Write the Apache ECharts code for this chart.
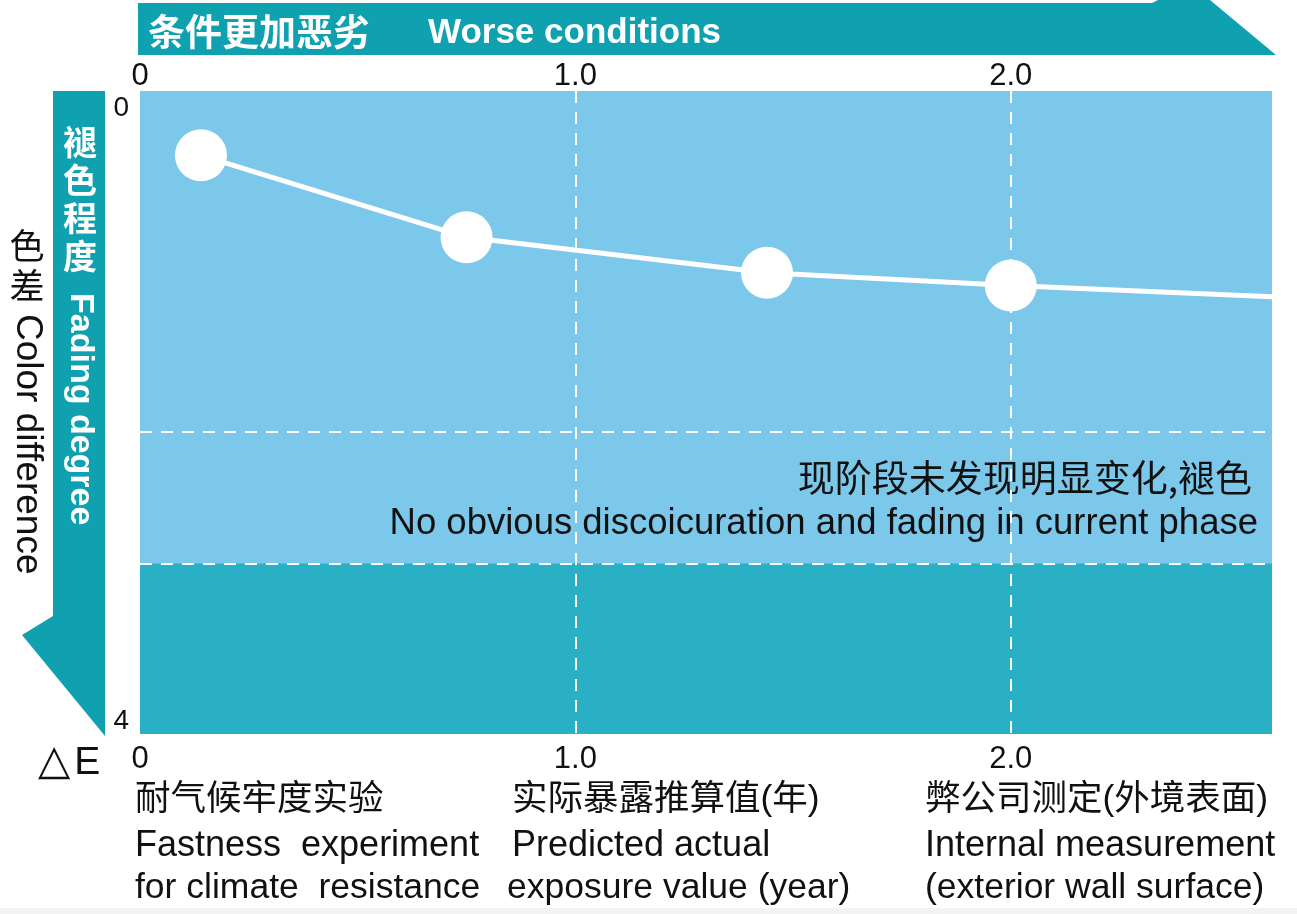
<!DOCTYPE html>
<html>
<head>
<meta charset="utf-8">
<script src="https://cdn.jsdelivr.net/npm/echarts@6/dist/echarts.min.js"></script>
<style>
  html, body { margin: 0; padding: 0; background: #ffffff; }
  #chart { width: 1297px; height: 914px; }
</style>
</head>
<body>
<div id="chart"></div>
<script>
// exposure (years) and colour difference readings
const years = [0.14, 0.75, 1.44, 2.0, 2.6];
const deltaE = [0.4, 0.91, 1.13, 1.21, 1.28];
const hasMarker = [true, true, true, true, false];
const xTickLabels = { 0: "0", 1: "1.0", 2: "2.0" };
const yTickLabels = { 0: "0", 4: "4" };
const guideYears = [1, 2];
const bandEdges = [2.12, 2.94];

const FONT = "'Liberation Sans', 'Noto Sans CJK SC', Arial, sans-serif";
const TEAL = "#0fa1b0";

const chart = echarts.init(document.getElementById("chart"));

const dashed = { color: "#ffffff", width: 2, type: [12, 9] };

const xLabel = (margin) => ({
  color: "#111",
  fontSize: 31,
  fontFamily: FONT,
  margin: margin,
  showMaxLabel: false,
  formatter: (v) => xTickLabels[v] || "",
});

const option = {
  backgroundColor: "#ffffff",
  animation: false,
  grid: {
    left: 140,
    right: 25,
    top: 91,
    bottom: 180,
    show: true,
    backgroundColor: "#7cc8eb",
    borderWidth: 0,
  },
  xAxis: [
    {
      type: "value",
      min: 0,
      max: 2.6,
      interval: 1,
      position: "bottom",
      axisLine: { show: false },
      axisTick: { show: false },
      splitLine: { show: false },
      axisLabel: xLabel(10),
    },
    {
      type: "value",
      min: 0,
      max: 2.6,
      interval: 1,
      position: "top",
      axisLine: { show: false },
      axisTick: { show: false },
      splitLine: { show: false },
      axisLabel: xLabel(-1),
    },
  ],
  yAxis: {
    type: "value",
    inverse: true,
    min: 0,
    max: 4,
    interval: 4,
    axisLine: { show: false },
    axisTick: { show: false },
    splitLine: { show: false },
    axisLabel: {
      color: "#111",
      fontSize: 28,
      fontFamily: FONT,
      margin: 11,
      formatter: (v) => (v === 0 ? "{top|0}" : "{bot|" + yTickLabels[v] + "}"),
      rich: {
        top: { fontSize: 28, fontFamily: FONT, color: "#111", padding: [34, 0, 0, 0] },
        bot: { fontSize: 28, fontFamily: FONT, color: "#111", padding: [0, 0, 26, 0] },
      },
    },
  },
  series: [
    {
      type: "line",
      xAxisIndex: 0,
      data: years.map((x, i) => ({
        value: [x, deltaE[i]],
        symbol: hasMarker[i] ? "circle" : "none",
      })),
      symbolSize: 52,
      showAllSymbol: true,
      lineStyle: { color: "#ffffff", width: 5 },
      itemStyle: { color: "#ffffff", borderWidth: 0 },
      z: 5,
      markArea: {
        silent: true,
        itemStyle: { color: "#2ab0c4" },
        data: [[{ yAxis: bandEdges[1] }, { yAxis: 4 }]],
      },
      markLine: {
        silent: true,
        symbol: "none",
        label: { show: false },
        lineStyle: dashed,
        data: [
          ...guideYears.map((v) => ({ xAxis: v })),
          ...bandEdges.map((v) => ({ yAxis: v })),
        ],
      },
    },
  ],
  graphic: [
    // top banner arrow
    {
      type: "polygon",
      shape: { points: [[138, 3], [1152, 3], [1158, 0], [1210, 0], [1276, 55], [138, 55]] },
      style: { fill: TEAL },
    },
    {
      type: "text",
      x: 148,
      y: 32,
      style: {
        text: "条件更加恶劣",
        fill: "#fff",
        font: "bold 37px 'Noto Sans CJK SC', sans-serif",
        textVerticalAlign: "middle",
      },
    },
    {
      type: "text",
      x: 428,
      y: 33,
      style: {
        text: "Worse conditions",
        fill: "#fff",
        font: "bold 35px " + FONT,
        textVerticalAlign: "middle",
      },
    },
    // left arrow
    {
      type: "polygon",
      shape: { points: [[53, 91], [105, 91], [105, 736], [22, 635], [53, 616]] },
      style: { fill: TEAL },
    },
    {
      type: "text",
      x: 80,
      y: 123,
      style: {
        text: "褪\n色\n程\n度",
        fill: "#fff",
        font: "bold 34px 'Noto Sans CJK SC', sans-serif",
        lineHeight: 38,
        textAlign: "center",
        textVerticalAlign: "top",
      },
    },
    {
      type: "text",
      x: 80,
      y: 293,
      rotation: -Math.PI / 2,
      style: {
        text: "Fading degree",
        fill: "#fff",
        font: "bold 34px " + FONT,
        textAlign: "left",
        textVerticalAlign: "middle",
      },
    },
    // outer axis title
    {
      type: "text",
      x: 27,
      y: 226,
      style: {
        text: "色\n差",
        fill: "#111",
        font: "35px 'Noto Sans CJK SC', sans-serif",
        lineHeight: 40,
        textAlign: "center",
        textVerticalAlign: "top",
      },
    },
    {
      type: "text",
      x: 27,
      y: 314,
      rotation: -Math.PI / 2,
      style: {
        text: "Color difference",
        fill: "#111",
        font: "37px " + FONT,
        textAlign: "left",
        textVerticalAlign: "middle",
      },
    },
    {
      type: "text",
      x: 38,
      y: 763,
      style: {
        text: "{t|\u25B3}{e|E}",
        textVerticalAlign: "middle",
        rich: {
          t: { fontSize: 42, fontFamily: "'DejaVu Sans', sans-serif", fill: "#111", padding: [0, 4, 0, 0] },
          e: { fontSize: 39, fontFamily: FONT, fill: "#111" },
        },
      },
    },
    // note inside the plot
    {
      type: "text",
      x: 1252,
      y: 478,
      style: {
        text: "现阶段未发现明显变化,褪色",
        fill: "#111",
        font: "37px 'Noto Sans CJK SC', sans-serif",
        textAlign: "right",
        textVerticalAlign: "middle",
      },
    },
    {
      type: "text",
      x: 1258,
      y: 524,
      style: {
        text: "No obvious discoicuration and fading in current phase",
        fill: "#111",
        font: "36.5px " + FONT,
        textAlign: "right",
        textVerticalAlign: "middle",
      },
    },
    // captions under the axis
    ...[
      [135, "耐气候牢度实验", "Fastness  experiment", "for climate  resistance"],
      [512, "实际暴露推算值(年)", "Predicted actual", "exposure value (year)"],
      [925, "弊公司测定(外境表面)", "Internal measurement", "(exterior wall surface)"],
    ].flatMap(([x, zh, en1, en2]) => [
      {
        type: "text",
        x: x,
        y: 800,
        style: { text: zh, fill: "#111", font: "35.5px " + FONT, textVerticalAlign: "middle" },
      },
      {
        type: "text",
        x: x,
        y: 846,
        style: { text: en1, fill: "#111", font: "36px " + FONT, textVerticalAlign: "middle" },
      },
      {
        type: "text",
        x: x - (x === 512 ? 5 : 0),
        y: 888,
        style: { text: en2, fill: "#111", font: "35.5px " + FONT, textVerticalAlign: "middle" },
      },
    ]),
    {
      type: "rect",
      shape: { x: 0, y: 908, width: 1297, height: 6 },
      style: { fill: "#f3f3f3" },
    },
  ],
};

chart.setOption(option);
</script>
</body>
</html>
